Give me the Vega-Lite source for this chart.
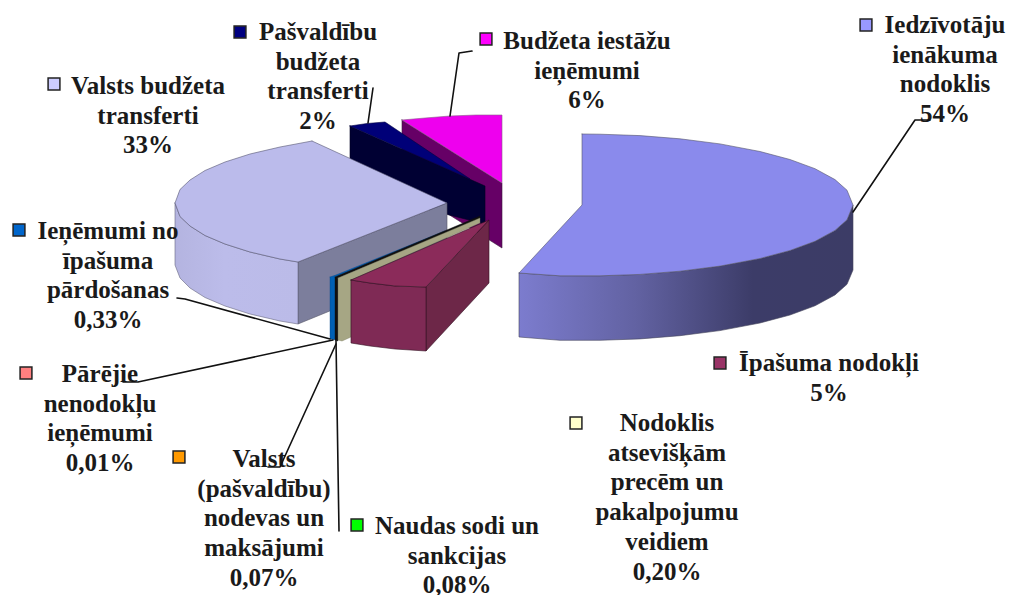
{"$schema":"https://vega.github.io/schema/vega-lite/v6.json","width":1011,"height":595,"padding":0,"autosize":{"type":"none"},"background":"white","view":{"stroke":null},
"config":{"line":{"strokeJoin":"round","strokeCap":"round"}},
"datasets":{
"faces":[
{"face":"magSide","n":1,"x":402,"y":120},{"face":"magSide","n":2,"x":502,"y":183},{"face":"magSide","n":3,"x":502,"y":248},{"face":"magSide","n":4,"x":402,"y":185},{"face":"magSide","n":5,"x":402,"y":120},
{"face":"magTop","n":1,"x":402,"y":120},{"face":"magTop","n":2,"x":425,"y":118},{"face":"magTop","n":3,"x":450,"y":116},{"face":"magTop","n":4,"x":476,"y":115},{"face":"magTop","n":5,"x":502,"y":115},{"face":"magTop","n":6,"x":502,"y":183},{"face":"magTop","n":7,"x":402,"y":120},
{"face":"navSide","n":1,"x":350,"y":126},{"face":"navSide","n":2,"x":485,"y":186},{"face":"navSide","n":3,"x":485,"y":224},{"face":"navSide","n":4,"x":350,"y":190},{"face":"navSide","n":5,"x":350,"y":126},
{"face":"navTop","n":1,"x":350,"y":126},{"face":"navTop","n":2,"x":367,"y":123.5},{"face":"navTop","n":3,"x":385,"y":122},{"face":"navTop","n":4,"x":470,"y":179},{"face":"navTop","n":5,"x":350,"y":126},
{"face":"lilEnd","n":1,"x":298,"y":262},{"face":"lilEnd","n":2,"x":447,"y":203},{"face":"lilEnd","n":3,"x":447,"y":263},{"face":"lilEnd","n":4,"x":298,"y":324},{"face":"lilEnd","n":5,"x":298,"y":262},
{"face":"lilWall","n":1,"x":175,"y":203},{"face":"lilWall","n":2,"x":180,"y":216.5},{"face":"lilWall","n":3,"x":190,"y":226},{"face":"lilWall","n":4,"x":205,"y":235.5},{"face":"lilWall","n":5,"x":225,"y":244},{"face":"lilWall","n":6,"x":250,"y":252},{"face":"lilWall","n":7,"x":280,"y":259},{"face":"lilWall","n":8,"x":298,"y":262},{"face":"lilWall","n":9,"x":298,"y":324},{"face":"lilWall","n":10,"x":280,"y":321},{"face":"lilWall","n":11,"x":250,"y":314},{"face":"lilWall","n":12,"x":225,"y":306},{"face":"lilWall","n":13,"x":205,"y":297.5},{"face":"lilWall","n":14,"x":190,"y":288},{"face":"lilWall","n":15,"x":180,"y":278},{"face":"lilWall","n":16,"x":175,"y":265},{"face":"lilWall","n":17,"x":175,"y":203},
{"face":"lilTop","n":1,"x":312,"y":141},{"face":"lilTop","n":2,"x":280,"y":147},{"face":"lilTop","n":3,"x":250,"y":154},{"face":"lilTop","n":4,"x":225,"y":162},{"face":"lilTop","n":5,"x":205,"y":170.5},{"face":"lilTop","n":6,"x":190,"y":180},{"face":"lilTop","n":7,"x":180,"y":189.5},{"face":"lilTop","n":8,"x":175,"y":203},{"face":"lilTop","n":9,"x":180,"y":216.5},{"face":"lilTop","n":10,"x":190,"y":226},{"face":"lilTop","n":11,"x":205,"y":235.5},{"face":"lilTop","n":12,"x":225,"y":244},{"face":"lilTop","n":13,"x":250,"y":252},{"face":"lilTop","n":14,"x":280,"y":259},{"face":"lilTop","n":15,"x":298,"y":262},{"face":"lilTop","n":16,"x":447,"y":203},{"face":"lilTop","n":17,"x":312,"y":141},
{"face":"blue","n":1,"x":330,"y":277},{"face":"blue","n":2,"x":336,"y":275},{"face":"blue","n":3,"x":445,"y":231},{"face":"blue","n":4,"x":336,"y":277},{"face":"blue","n":5,"x":336,"y":340},{"face":"blue","n":6,"x":330,"y":339},{"face":"blue","n":7,"x":330,"y":277},
{"face":"black","n":1,"x":335,"y":277},{"face":"black","n":2,"x":480,"y":216},{"face":"black","n":3,"x":480,"y":219},{"face":"black","n":4,"x":338,"y":278},{"face":"black","n":5,"x":338,"y":341},{"face":"black","n":6,"x":335,"y":340},{"face":"black","n":7,"x":335,"y":277},
{"face":"khaki","n":1,"x":338,"y":278},{"face":"khaki","n":2,"x":480,"y":218},{"face":"khaki","n":3,"x":480,"y":223},{"face":"khaki","n":4,"x":351,"y":280},{"face":"khaki","n":5,"x":351,"y":337},{"face":"khaki","n":6,"x":342,"y":341},{"face":"khaki","n":7,"x":338,"y":340},{"face":"khaki","n":8,"x":338,"y":278},
{"face":"marSide","n":1,"x":426,"y":287},{"face":"marSide","n":2,"x":489,"y":220},{"face":"marSide","n":3,"x":489,"y":283},{"face":"marSide","n":4,"x":426,"y":351},{"face":"marSide","n":5,"x":426,"y":287},
{"face":"marFront","n":1,"x":351,"y":280},{"face":"marFront","n":2,"x":370,"y":283},{"face":"marFront","n":3,"x":395,"y":286},{"face":"marFront","n":4,"x":426,"y":287},{"face":"marFront","n":5,"x":426,"y":351},{"face":"marFront","n":6,"x":395,"y":349},{"face":"marFront","n":7,"x":370,"y":346},{"face":"marFront","n":8,"x":351,"y":343},{"face":"marFront","n":9,"x":351,"y":280},
{"face":"marTop","n":1,"x":351,"y":280},{"face":"marTop","n":2,"x":489,"y":220},{"face":"marTop","n":3,"x":426,"y":287},{"face":"marTop","n":4,"x":395,"y":286},{"face":"marTop","n":5,"x":370,"y":283},{"face":"marTop","n":6,"x":351,"y":280},
{"face":"bigWall","n":1,"x":519,"y":273},{"face":"bigWall","n":2,"x":560,"y":275.8},{"face":"bigWall","n":3,"x":600,"y":275.8},{"face":"bigWall","n":4,"x":640,"y":274.4},{"face":"bigWall","n":5,"x":680,"y":271.2},{"face":"bigWall","n":6,"x":720,"y":266.1},{"face":"bigWall","n":7,"x":760,"y":258.5},{"face":"bigWall","n":8,"x":790,"y":250.5},{"face":"bigWall","n":9,"x":815,"y":241.3},{"face":"bigWall","n":10,"x":835,"y":230.4},{"face":"bigWall","n":11,"x":847,"y":219.8},{"face":"bigWall","n":12,"x":853,"y":205},{"face":"bigWall","n":13,"x":853,"y":270},{"face":"bigWall","n":14,"x":847,"y":284.3},{"face":"bigWall","n":15,"x":835,"y":294.9},{"face":"bigWall","n":16,"x":815,"y":305.8},{"face":"bigWall","n":17,"x":790,"y":315},{"face":"bigWall","n":18,"x":760,"y":323},{"face":"bigWall","n":19,"x":720,"y":330.6},{"face":"bigWall","n":20,"x":680,"y":335.7},{"face":"bigWall","n":21,"x":640,"y":338.9},{"face":"bigWall","n":22,"x":600,"y":340.3},{"face":"bigWall","n":23,"x":560,"y":340.3},{"face":"bigWall","n":24,"x":519,"y":337},{"face":"bigWall","n":25,"x":519,"y":273},
{"face":"bigTop","n":1,"x":582,"y":134},{"face":"bigTop","n":2,"x":600,"y":134.2},{"face":"bigTop","n":3,"x":640,"y":135.6},{"face":"bigTop","n":4,"x":680,"y":138.8},{"face":"bigTop","n":5,"x":720,"y":143.9},{"face":"bigTop","n":6,"x":760,"y":151.5},{"face":"bigTop","n":7,"x":790,"y":159.5},{"face":"bigTop","n":8,"x":815,"y":168.7},{"face":"bigTop","n":9,"x":835,"y":179.6},{"face":"bigTop","n":10,"x":847,"y":190.2},{"face":"bigTop","n":11,"x":853,"y":205},{"face":"bigTop","n":12,"x":847,"y":219.8},{"face":"bigTop","n":13,"x":835,"y":230.4},{"face":"bigTop","n":14,"x":815,"y":241.3},{"face":"bigTop","n":15,"x":790,"y":250.5},{"face":"bigTop","n":16,"x":760,"y":258.5},{"face":"bigTop","n":17,"x":720,"y":266.1},{"face":"bigTop","n":18,"x":680,"y":271.2},{"face":"bigTop","n":19,"x":640,"y":274.4},{"face":"bigTop","n":20,"x":600,"y":275.8},{"face":"bigTop","n":21,"x":560,"y":275.8},{"face":"bigTop","n":22,"x":519,"y":273},{"face":"bigTop","n":23,"x":582,"y":205},{"face":"bigTop","n":24,"x":582,"y":134}
],
"leaders":[
{"leader":"a","n":1,"x":853,"y":212},{"leader":"a","n":2,"x":915,"y":120},{"leader":"a","n":3,"x":930,"y":120},
{"leader":"b","n":1,"x":450,"y":116},{"leader":"b","n":2,"x":459,"y":53},{"leader":"b","n":3,"x":472,"y":51},
{"leader":"c","n":1,"x":368,"y":123},{"leader":"c","n":2,"x":373,"y":88},
{"leader":"d","n":1,"x":177,"y":298},{"leader":"d","n":2,"x":185,"y":299},{"leader":"d","n":3,"x":330,"y":339},
{"leader":"e","n":1,"x":123,"y":382},{"leader":"e","n":2,"x":138,"y":382},{"leader":"e","n":3,"x":333,"y":340},
{"leader":"f","n":1,"x":268,"y":467},{"leader":"f","n":2,"x":280,"y":467},{"leader":"f","n":3,"x":336,"y":344},
{"leader":"g","n":1,"x":336,"y":340},{"leader":"g","n":2,"x":339,"y":531}
],
"categories":[
{"category":"Iedzīvotāju ienākuma nodoklis","label":"Iedzīvotāju|ienākuma|nodoklis|54%","x":945,"y":33,"sx":866,"sy":25},
{"category":"Īpašuma nodokļi","label":"Īpašuma nodokļi|5%","x":829,"y":371,"sx":720,"sy":363},
{"category":"Nodoklis atsevišķām precēm un pakalpojumu veidiem","label":"Nodoklis|atsevišķām|precēm un|pakalpojumu|veidiem|0,20%","x":667,"y":431,"sx":576,"sy":423},
{"category":"Naudas sodi un sankcijas","label":"Naudas sodi un|sankcijas|0,08%","x":457,"y":534,"sx":357,"sy":525},
{"category":"Valsts (pašvaldību) nodevas un maksājumi","label":"Valsts|(pašvaldību)|nodevas un|maksājumi|0,07%","x":264,"y":467,"sx":179,"sy":457},
{"category":"Pārējie nenodokļu ieņēmumi","label":"Pārējie|nenodokļu|ieņēmumi|0,01%","x":100,"y":382,"sx":26,"sy":373},
{"category":"Ieņēmumi no īpašuma pārdošanas","label":"Ieņēmumi no|īpašuma|pārdošanas|0,33%","x":108,"y":239,"sx":19,"sy":230},
{"category":"Valsts budžeta transferti","label":"Valsts budžeta|transferti|33%","x":148,"y":94,"sx":54,"sy":84},
{"category":"Pašvaldību budžeta transferti","label":"Pašvaldību|budžeta|transferti|2%","x":318,"y":40,"sx":240,"sy":32},
{"category":"Budžeta iestāžu ieņēmumi","label":"Budžeta iestāžu|ieņēmumi|6%","x":587,"y":49,"sx":486,"sy":39}
]},
"encoding":{"x":{"field":"x","type":"quantitative","scale":{"domain":[0,1011]},"axis":null},"y":{"field":"y","type":"quantitative","scale":{"domain":[595,0]},"axis":null},"order":{"field":"n"}},
"layer":[
{"data":{"name":"faces"},"transform":[{"filter":"datum.face=='magSide'"}],"mark":{"type":"line","fill":"#660066","stroke":"#3a1a3a","strokeWidth":0.6}},
{"data":{"name":"faces"},"transform":[{"filter":"datum.face=='magTop'"}],"mark":{"type":"line","fill":"#ee00ee","stroke":"#8a5a8a","strokeWidth":0.6}},
{"data":{"name":"faces"},"transform":[{"filter":"datum.face=='navSide'"}],"mark":{"type":"line","fill":"#000033","stroke":"#000022","strokeWidth":0.6}},
{"data":{"name":"faces"},"transform":[{"filter":"datum.face=='navTop'"}],"mark":{"type":"line","fill":"#000078","stroke":"#000040","strokeWidth":0.6}},
{"data":{"name":"faces"},"transform":[{"filter":"datum.face=='lilEnd'"}],"mark":{"type":"line","fill":"#7c7e9c","stroke":"#555566","strokeWidth":0.6}},
{"data":{"name":"faces"},"transform":[{"filter":"datum.face=='lilWall'"}],"mark":{"type":"line","fill":{"gradient":"linear","x1":0,"x2":1,"y1":0,"y2":0,"stops":[{"offset":0,"color":"#b4b4e0"},{"offset":0.4,"color":"#bcbcea"},{"offset":1,"color":"#bbbbe8"}]},"stroke":"#666680","strokeWidth":0.6}},
{"data":{"name":"faces"},"transform":[{"filter":"datum.face=='lilTop'"}],"mark":{"type":"line","fill":"#bbbbeb","stroke":"#555570","strokeWidth":0.6}},
{"data":{"name":"faces"},"transform":[{"filter":"datum.face=='blue'"}],"mark":{"type":"line","fill":"#0060b4","stroke":"#004488","strokeWidth":0.4}},
{"data":{"name":"faces"},"transform":[{"filter":"datum.face=='black'"}],"mark":{"type":"line","fill":"#101010","stroke":"#101010","strokeWidth":0.4}},
{"data":{"name":"faces"},"transform":[{"filter":"datum.face=='khaki'"}],"mark":{"type":"line","fill":"#a6a684","stroke":"#77775c","strokeWidth":0.4}},
{"data":{"name":"faces"},"transform":[{"filter":"datum.face=='marSide'"}],"mark":{"type":"line","fill":"#6d2748","stroke":"#331122","strokeWidth":0.6}},
{"data":{"name":"faces"},"transform":[{"filter":"datum.face=='marFront'"}],"mark":{"type":"line","fill":"#7f2a55","stroke":"#331122","strokeWidth":0.6}},
{"data":{"name":"faces"},"transform":[{"filter":"datum.face=='marTop'"}],"mark":{"type":"line","fill":"#8b2b5a","stroke":"#331122","strokeWidth":0.6}},
{"data":{"name":"faces"},"transform":[{"filter":"datum.face=='bigWall'"}],"mark":{"type":"line","fill":{"gradient":"linear","x1":0,"x2":1,"y1":0,"y2":0,"stops":[{"offset":0,"color":"#7c7cce"},{"offset":0.35,"color":"#6262a2"},{"offset":0.7,"color":"#3c3c68"},{"offset":1,"color":"#3c3c66"}]},"stroke":"#44445a","strokeWidth":0.6}},
{"data":{"name":"faces"},"transform":[{"filter":"datum.face=='bigTop'"}],"mark":{"type":"line","fill":"#8a8aec","stroke":"#55556a","strokeWidth":0.6}},
{"data":{"name":"categories"},"mark":{"type":"text","font":"Liberation Serif","fontWeight":"bold","fontSize":25,"lineBreak":"|","lineHeight":29.7,"align":"center","baseline":"alphabetic","fill":"#1a1a1a"},"encoding":{"text":{"field":"label"},"order":null}},
{"data":{"name":"leaders"},"mark":{"type":"line","stroke":"#111111","strokeWidth":1.6},"encoding":{"detail":{"field":"leader"}}},
{"data":{"name":"categories"},"mark":{"type":"point","shape":"square","filled":true,"size":140,"stroke":"#222222","strokeWidth":1.5,"opacity":1},"encoding":{"x":{"field":"sx","type":"quantitative"},"y":{"field":"sy","type":"quantitative"},"order":null,"color":{"field":"category","type":"nominal","legend":null,"scale":{"domain":["Iedzīvotāju ienākuma nodoklis","Īpašuma nodokļi","Nodoklis atsevišķām precēm un pakalpojumu veidiem","Naudas sodi un sankcijas","Valsts (pašvaldību) nodevas un maksājumi","Pārējie nenodokļu ieņēmumi","Ieņēmumi no īpašuma pārdošanas","Valsts budžeta transferti","Pašvaldību budžeta transferti","Budžeta iestāžu ieņēmumi"],"range":["#9999ff","#993366","#ffffcc","#00ff00","#ff9900","#ff8080","#0066cc","#ccccff","#000080","#ff00ff"]}}}}
]}
